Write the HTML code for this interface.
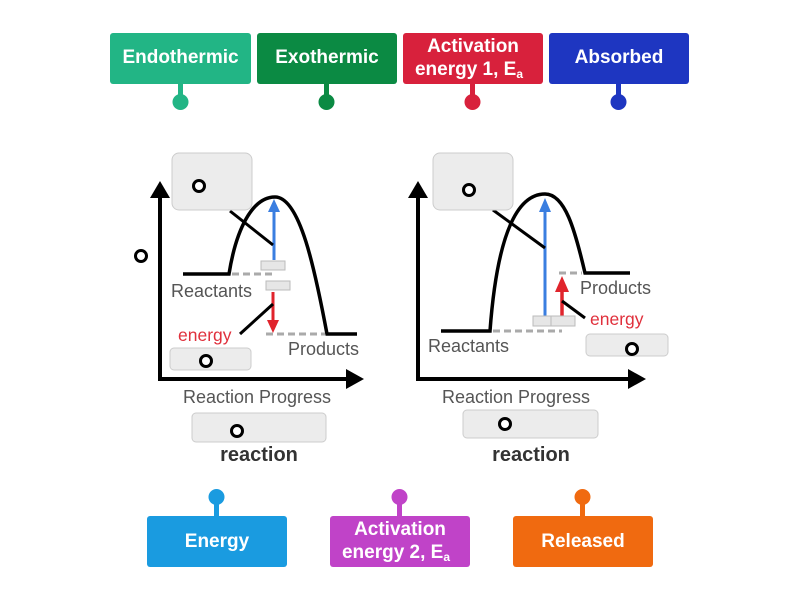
<!DOCTYPE html>
<html><head><meta charset="utf-8"><style>
body{margin:0;background:#fff;}
svg{display:block;font-family:"Liberation Sans",sans-serif;}
.b{font-family:"Liberation Sans",sans-serif;font-weight:bold;fill:#fff;font-size:19px;text-anchor:middle;}
.g{fill:#555;font-size:18px;}
</style></head><body>
<svg width="800" height="600" viewBox="0 0 800 600">
<!-- top buttons -->
<g>
<rect x="110" y="33" width="141" height="51" rx="3" fill="#22b585"/>
<rect x="178" y="84" width="5" height="16" fill="#22b585"/><circle cx="180.5" cy="102" r="8" fill="#22b585"/>
<text class="b" x="180.5" y="63">Endothermic</text>
<rect x="257" y="33" width="140" height="51" rx="3" fill="#0b8a43"/>
<rect x="324" y="84" width="5" height="16" fill="#0b8a43"/><circle cx="326.5" cy="102" r="8" fill="#0b8a43"/>
<text class="b" x="327" y="63">Exothermic</text>
<rect x="403" y="33" width="140" height="51" rx="3" fill="#d8213c"/>
<rect x="470" y="84" width="5" height="16" fill="#d8213c"/><circle cx="472.5" cy="102" r="8" fill="#d8213c"/>
<text class="b" x="473" y="52">Activation</text>
<text class="b" x="469" y="75">energy 1, E<tspan font-size="12" dy="3">a</tspan></text>
<rect x="549" y="33" width="140" height="51" rx="3" fill="#1e36c1"/>
<rect x="616" y="84" width="5" height="16" fill="#1e36c1"/><circle cx="618.5" cy="102" r="8" fill="#1e36c1"/>
<text class="b" x="619" y="63">Absorbed</text>
</g>
<!-- bottom buttons -->
<g>
<rect x="147" y="516" width="140" height="51" rx="3" fill="#1a9be0"/>
<rect x="214" y="499" width="5" height="17" fill="#1a9be0"/><circle cx="216.5" cy="497" r="8" fill="#1a9be0"/>
<text class="b" x="217" y="547">Energy</text>
<rect x="330" y="516" width="140" height="51" rx="3" fill="#c043c8"/>
<rect x="397" y="499" width="5" height="17" fill="#c043c8"/><circle cx="399.5" cy="497" r="8" fill="#c043c8"/>
<text class="b" x="400" y="535">Activation</text>
<text class="b" x="396" y="558">energy 2, E<tspan font-size="12" dy="3">a</tspan></text>
<rect x="513" y="516" width="140" height="51" rx="3" fill="#f06a10"/>
<rect x="580" y="499" width="5" height="17" fill="#f06a10"/><circle cx="582.5" cy="497" r="8" fill="#f06a10"/>
<text class="b" x="583" y="547">Released</text>
</g>

<!-- LEFT DIAGRAM -->
<g>
<line x1="160" y1="379" x2="160" y2="196" stroke="#000" stroke-width="4"/>
<path d="M150,198 L160,181 L170,198z"/>
<line x1="158" y1="379" x2="348" y2="379" stroke="#000" stroke-width="4"/>
<path d="M346,369 L364,379 L346,389z"/>
<path d="M183,274 L229,274 C236,230 252,197 275,197 C300,197 315,270 327,334 L357,334" fill="none" stroke="#000" stroke-width="3.5"/>
<line x1="232" y1="274" x2="272" y2="274" stroke="#aaa" stroke-width="3" stroke-dasharray="7,4"/>
<line x1="266" y1="334" x2="325" y2="334" stroke="#aaa" stroke-width="3" stroke-dasharray="7,4"/>
<line x1="274" y1="260" x2="274" y2="210" stroke="#3a7ee0" stroke-width="3"/>
<path d="M268,212 L274,199 L280,212z" fill="#3a7ee0"/>
<line x1="273" y1="292" x2="273" y2="322" stroke="#e0242c" stroke-width="3"/>
<path d="M267,320 L273,333 L279,320z" fill="#e0242c"/>
<rect x="261" y="261" width="24" height="9" fill="#e6e6e6" stroke="#bbb"/>
<rect x="266" y="281" width="24" height="9" fill="#e6e6e6" stroke="#bbb"/>
<line x1="230" y1="211" x2="273" y2="245" stroke="#000" stroke-width="3"/>
<line x1="240" y1="334" x2="273" y2="304" stroke="#000" stroke-width="3"/>
<rect x="172" y="153" width="80" height="57" rx="7" fill="#ececec" stroke="#ccc"/>
<circle cx="199" cy="186" r="5.5" fill="#fff" stroke="#000" stroke-width="3"/>
<circle cx="141" cy="256" r="5.5" fill="#fff" stroke="#000" stroke-width="3"/>
<text class="g" x="171" y="297">Reactants</text>
<text x="178" y="341" fill="#e0303c" font-size="17.5">energy</text>
<text class="g" x="288" y="355">Products</text>
<rect x="170" y="348" width="81" height="22" rx="4" fill="#ececec" stroke="#ccc"/>
<circle cx="206" cy="361" r="5.5" fill="#fff" stroke="#000" stroke-width="3"/>
<text class="g" x="257" y="403" text-anchor="middle" font-size="20">Reaction Progress</text>
<rect x="192" y="413" width="134" height="29" rx="4" fill="#ececec" stroke="#ccc"/>
<circle cx="237" cy="431" r="5.5" fill="#fff" stroke="#000" stroke-width="3"/>
<text x="259" y="461" text-anchor="middle" font-size="20" font-weight="bold" fill="#333">reaction</text>
</g>

<!-- RIGHT DIAGRAM -->
<g>
<line x1="418" y1="379" x2="418" y2="196" stroke="#000" stroke-width="4"/>
<path d="M408,198 L418,181 L428,198z"/>
<line x1="416" y1="379" x2="630" y2="379" stroke="#000" stroke-width="4"/>
<path d="M628,369 L646,379 L628,389z"/>
<path d="M441,331 L490,331 C496,250 512,194 545,194 C565,194 575,230 585,273 L630,273" fill="none" stroke="#000" stroke-width="3.5"/>
<line x1="493" y1="331" x2="562" y2="331" stroke="#aaa" stroke-width="3" stroke-dasharray="7,4"/>
<line x1="559" y1="273" x2="582" y2="273" stroke="#aaa" stroke-width="3" stroke-dasharray="7,4"/>
<line x1="545" y1="318" x2="545" y2="210" stroke="#3a7ee0" stroke-width="3"/>
<path d="M539,212 L545,198 L551,212z" fill="#3a7ee0"/>
<line x1="562" y1="318" x2="562" y2="290" stroke="#e0242c" stroke-width="3.5"/>
<path d="M555,292 L562,276 L569,292z" fill="#e0242c"/>
<rect x="533" y="316" width="18" height="10" fill="#e6e6e6" stroke="#bbb"/>
<rect x="551" y="316" width="24" height="10" fill="#e6e6e6" stroke="#bbb"/>
<line x1="493" y1="210" x2="545" y2="248" stroke="#000" stroke-width="3"/>
<line x1="562" y1="301" x2="585" y2="318" stroke="#000" stroke-width="3"/>
<rect x="433" y="153" width="80" height="57" rx="7" fill="#ececec" stroke="#ccc"/>
<circle cx="469" cy="190" r="5.5" fill="#fff" stroke="#000" stroke-width="3"/>
<text class="g" x="428" y="352">Reactants</text>
<text class="g" x="580" y="294">Products</text>
<text x="590" y="325" fill="#e0303c" font-size="17.5">energy</text>
<rect x="586" y="334" width="82" height="22" rx="4" fill="#ececec" stroke="#ccc"/>
<circle cx="632" cy="349" r="5.5" fill="#fff" stroke="#000" stroke-width="3"/>
<text class="g" x="516" y="403" text-anchor="middle" font-size="20">Reaction Progress</text>
<rect x="463" y="410" width="135" height="28" rx="4" fill="#ececec" stroke="#ccc"/>
<circle cx="505" cy="424" r="5.5" fill="#fff" stroke="#000" stroke-width="3"/>
<text x="531" y="461" text-anchor="middle" font-size="20" font-weight="bold" fill="#333">reaction</text>
</g>
</svg>
</body></html>
